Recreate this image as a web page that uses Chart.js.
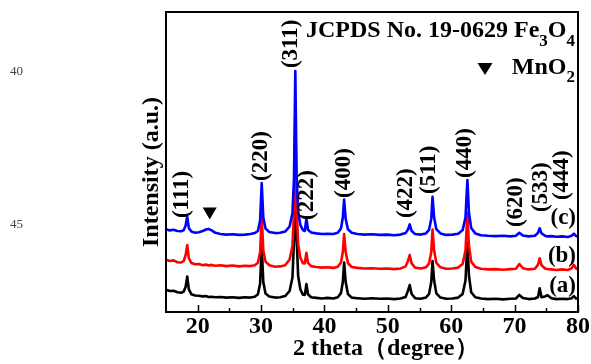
<!DOCTYPE html>
<html>
<head>
<meta charset="utf-8">
<script src="https://cdn.jsdelivr.net/npm/chart.js@4.4.1/dist/chart.umd.min.js"></script>
<style>
  html, body { margin: 0; padding: 0; background: #fff; }
  #wrap { position: relative; width: 591px; height: 364px; }
</style>
</head>
<body>
<div id="wrap"><canvas id="xrd" width="591" height="364"></canvas></div>
<script>
// 2θ sampling positions (degrees)
const twoTheta = [
  15, 15.6, 16.2, 16.8, 17.4, 17.8, 18.1, 18.35, 18.6, 19.0,
  19.6, 20.2, 20.8, 21.3, 21.7, 22.2, 22.8, 23.6, 24.5, 25.5,
  26.5, 27.5, 28.3, 29.0, 29.5, 29.85, 30.1, 30.35, 30.7, 31.3,
  32.2, 33.0, 33.8, 34.5, 34.95, 35.2, 35.4, 35.6, 35.85, 36.2,
  36.6, 36.9, 37.15, 37.4, 37.9, 38.7, 39.6, 40.5, 41.4, 42.1,
  42.6, 42.9, 43.1, 43.35, 43.7, 44.3, 45.2, 46.3, 47.5, 48.7,
  49.9, 51.0, 52.0, 52.8, 53.2, 53.45, 53.75, 54.3, 55.2, 56.0,
  56.5, 56.85, 57.05, 57.3, 57.65, 58.3, 59.2, 60.2, 61.1, 61.8,
  62.25, 62.55, 62.8, 63.15, 63.8, 64.7, 65.8, 67.0, 68.2, 69.3,
  70.2, 70.75, 71.3, 72.2, 73.2, 73.7, 73.95, 74.25, 74.8, 75.2,
  75.8, 76.6, 77.5, 78.4, 79.0, 79.35, 79.7, 80
];

// (a) intensity, stacked offset included
const intensityA = [
  7.4, 7.0, 7.1, 6.6, 6.4, 6.8, 8.4, 11.8, 7.6, 5.9,
  5.5, 5.4, 5.2, 5.3, 5.0, 5.1, 4.9, 5.0, 4.8, 4.9,
  4.7, 4.9, 4.8, 5.1, 5.9, 9.5, 22.0, 10.0, 6.2, 5.2,
  4.8, 4.9, 5.3, 7.0, 11.5, 24.0, 55.0, 25.0, 12.0, 7.5,
  5.8, 5.7, 9.3, 5.9, 4.9, 4.7, 4.5, 4.7, 4.5, 4.9,
  6.3, 10.0, 16.5, 10.0, 6.0, 4.8, 4.6, 4.4, 4.6, 4.4,
  4.5, 4.3, 4.5, 5.0, 7.2, 9.0, 6.0, 4.6, 4.4, 4.8,
  6.0, 10.0, 17.0, 10.5, 6.2, 4.8, 4.4, 4.5, 4.8, 6.0,
  10.5, 23.0, 12.0, 6.6, 4.9, 4.5, 4.3, 4.4, 4.2, 4.4,
  4.5, 5.7, 4.7, 4.3, 4.5, 5.0, 7.9, 4.9, 5.2, 5.6,
  4.6, 4.3, 4.4, 4.3, 4.6, 5.3, 4.5, 4.4
];

// (b) intensity
const intensityB = [
  17.4, 17.0, 17.2, 16.6, 16.5, 17.0, 19.0, 22.3, 18.0, 16.3,
  15.9, 16.0, 15.6, 15.8, 15.5, 15.7, 15.4, 15.6, 15.3, 15.5,
  15.2, 15.4, 15.3, 15.6, 16.4, 20.0, 32.0, 20.5, 16.8, 15.6,
  15.1, 15.2, 15.6, 17.5, 22.0, 34.0, 66.0, 35.0, 22.5, 18.0,
  16.3, 16.2, 19.7, 16.4, 15.3, 15.0, 14.8, 14.9, 14.7, 15.1,
  16.5, 20.0, 26.0, 20.0, 16.3, 15.0, 14.7, 14.5, 14.6, 14.4,
  14.5, 14.3, 14.5, 15.2, 17.2, 19.0, 16.2, 14.8, 14.5, 14.9,
  16.1, 20.0, 27.5, 20.5, 16.4, 14.9, 14.4, 14.5, 14.8, 16.0,
  20.5, 33.0, 22.0, 16.8, 15.0, 14.4, 14.2, 14.3, 14.1, 14.3,
  14.4, 16.0, 14.6, 14.2, 14.4, 15.8, 17.9, 15.6, 14.5, 14.3,
  14.2, 14.0, 14.2, 14.0, 14.6, 15.7, 14.5, 14.2
];

// (c) intensity
const intensityC = [
  27.6, 27.2, 27.4, 27.0, 26.9, 27.3, 28.8, 31.8, 28.0, 26.8,
  26.4, 26.6, 27.0, 27.5, 27.7, 27.2, 26.4, 26.0, 25.8, 25.9,
  25.7, 25.8, 26.0, 26.3, 27.0, 30.5, 43.0, 31.5, 27.8, 26.7,
  26.3, 26.4, 26.8, 28.5, 33.0, 45.0, 80.3, 46.0, 33.5, 29.0,
  27.3, 27.0, 31.2, 27.4, 26.5, 26.2, 26.0, 26.1, 26.0, 26.4,
  27.8, 31.5, 37.5, 31.0, 27.6, 26.4, 26.0, 25.8, 25.9, 25.7,
  25.8, 25.6, 25.8, 26.3, 27.6, 29.2, 27.0, 26.0, 25.8, 26.2,
  27.4, 31.0, 38.4, 31.5, 27.6, 26.2, 25.7, 25.8, 26.1, 27.3,
  31.5, 44.0, 33.0, 28.0, 26.2, 25.6, 25.4, 25.3, 25.4, 25.2,
  25.4, 26.4, 25.5, 25.2, 25.4, 26.4, 27.9, 26.2, 25.4, 25.2,
  25.3, 25.1, 25.2, 25.0, 25.4, 26.1, 25.3, 25.1
];

// axis ticks
const xTickValues = [20, 30, 40, 50, 60, 70, 80];
const xMinorTickValues = [25, 35, 45, 55, 65, 75];

// reflection indices and where their labels sit (2θ, intensity level)
const peakLabels = ['(111)', '(220)', '(311)', '(222)', '(400)', '(422)', '(511)', '(440)', '(620)', '(533)', '(444)'];
const peakLabelTheta = [17.5, 30.0, 34.7, 37.25, 43.1, 52.95, 56.5, 62.15, 70.15, 74.25, 77.5];
const peakLabelLevel = [31.3, 43.7, 81.3, 30.7, 38.0, 31.3, 39.3, 44.7, 28.3, 33.3, 37.3];

// sample tags at the right end of each pattern
const curveLabels = ['(a)', '(b)', '(c)'];
const curveLabelLevel = [8.7, 18.7, 31.3];

// MnO2 reflection marker
const mno2MarkTheta = [21.9];
const mno2MarkLevel = [32.8];

const SERIF = '"Liberation Serif", "Times New Roman", serif';
const bold = px => `bold ${px}px ${SERIF}`;

function toPoints(values) {
  return twoTheta.map((t, i) => ({ x: t, y: values[i] }));
}

function downTriangle(ctx, cx, cy, w, h) {
  ctx.beginPath();
  ctx.moveTo(cx - w / 2, cy - h / 2);
  ctx.lineTo(cx + w / 2, cy - h / 2);
  ctx.lineTo(cx, cy + h / 2);
  ctx.closePath();
  ctx.fill();
}

const decorations = {
  id: 'decorations',
  afterDraw(chart) {
    const { ctx, chartArea: a, scales: { x, y } } = chart;
    ctx.save();

    // frame
    ctx.strokeStyle = '#000';
    ctx.lineWidth = 2;
    ctx.strokeRect(a.left, a.top, a.right - a.left, a.bottom - a.top);

    // inward ticks on the 2θ axis
    ctx.lineWidth = 1.5;
    ctx.beginPath();
    xTickValues.forEach(v => {
      const px = Math.round(x.getPixelForValue(v)) + 0.5;
      ctx.moveTo(px, a.bottom);
      ctx.lineTo(px, a.bottom - 7);
    });
    xMinorTickValues.forEach(v => {
      const px = Math.round(x.getPixelForValue(v)) + 0.5;
      ctx.moveTo(px, a.bottom);
      ctx.lineTo(px, a.bottom - 4);
    });
    ctx.stroke();

    ctx.fillStyle = '#000';

    // Miller index labels, written upward
    ctx.font = bold(23);
    ctx.textAlign = 'left';
    ctx.textBaseline = 'middle';
    peakLabels.forEach((t, i) => {
      ctx.save();
      ctx.translate(x.getPixelForValue(peakLabelTheta[i]), y.getPixelForValue(peakLabelLevel[i]));
      ctx.rotate(-Math.PI / 2);
      ctx.fillText(t, 0, 0);
      ctx.restore();
    });

    // MnO2 marker above its broad reflection
    mno2MarkTheta.forEach((t, i) => {
      downTriangle(ctx, x.getPixelForValue(t), y.getPixelForValue(mno2MarkLevel[i]), 14, 12);
    });

    // sample tags
    ctx.font = bold(23);
    ctx.textAlign = 'right';
    curveLabels.forEach((t, i) => {
      ctx.fillText(t, a.right - 2, y.getPixelForValue(curveLabelLevel[i]));
    });

    // reference card and phase key, top right
    ctx.textBaseline = 'alphabetic';
    ctx.textAlign = 'left';
    const right = a.right - 3;
    const main = bold(24), sub = bold(17);
    const parts = [
      ['JCPDS No. 19-0629 Fe', main, 0],
      ['3', sub, 9],
      ['O', main, 0],
      ['4', sub, 9]
    ];
    let total = 0;
    parts.forEach(p => { ctx.font = p[1]; total += ctx.measureText(p[0]).width; });
    let cx = right - total;
    const base1 = a.top + 25;
    parts.forEach(p => {
      ctx.font = p[1];
      ctx.fillText(p[0], cx, base1 + p[2]);
      cx += ctx.measureText(p[0]).width;
    });

    const key = [['MnO', main, 0], ['2', sub, 8]];
    total = 0;
    key.forEach(p => { ctx.font = p[1]; total += ctx.measureText(p[0]).width; });
    cx = right - total;
    const base2 = a.top + 62;
    key.forEach(p => {
      ctx.font = p[1];
      ctx.fillText(p[0], cx, base2 + p[2]);
      cx += ctx.measureText(p[0]).width;
    });
    downTriangle(ctx, a.right - 93, a.top + 57, 15, 12);

    // axis titles
    ctx.font = bold(24);
    ctx.textAlign = 'left';
    ctx.fillText('2 theta\uFF08degree\uFF09', 293, 355);

    ctx.save();
    ctx.translate(158, 172);
    ctx.rotate(-Math.PI / 2);
    ctx.textAlign = 'center';
    ctx.fillText('Intensity (a.u.)', 0, 0);
    ctx.restore();

    // manuscript line numbers in the margin
    ctx.font = `13px ${SERIF}`;
    ctx.fillStyle = '#444';
    ctx.textAlign = 'left';
    ctx.fillText('40', 10, 75);
    ctx.fillText('45', 10, 228);

    ctx.restore();
  }
};

new Chart(document.getElementById('xrd'), {
  type: 'line',
  data: {
    datasets: [
      { label: '(a)', data: toPoints(intensityA), borderColor: '#000000', order: 3 },
      { label: '(b)', data: toPoints(intensityB), borderColor: '#ff0000', order: 2 },
      { label: '(c)', data: toPoints(intensityC), borderColor: '#0000ff', order: 1 }
    ]
  },
  options: {
    responsive: false,
    animation: false,
    devicePixelRatio: 1,
    elements: {
      line: { borderWidth: 2.6, tension: 0, fill: false, borderJoinStyle: 'round' },
      point: { radius: 0 }
    },
    layout: { padding: { left: 166, right: 13, top: 12, bottom: 0 } },
    plugins: { legend: { display: false }, tooltip: { enabled: false } },
    scales: {
      x: {
        type: 'linear',
        min: 15,
        max: 80,
        afterBuildTicks: scale => { scale.ticks = xTickValues.map(v => ({ value: v })); },
        afterFit: scale => { scale.height = 52; },
        grid: { display: false, drawTicks: false },
        border: { display: false },
        ticks: {
          padding: 0,
          color: '#000',
          maxRotation: 0,
          font: { family: SERIF, size: 24, weight: 'bold' }
        }
      },
      y: {
        display: false,
        min: 0,
        max: 100
      }
    }
  },
  plugins: [decorations]
});
</script>
</body>
</html>
